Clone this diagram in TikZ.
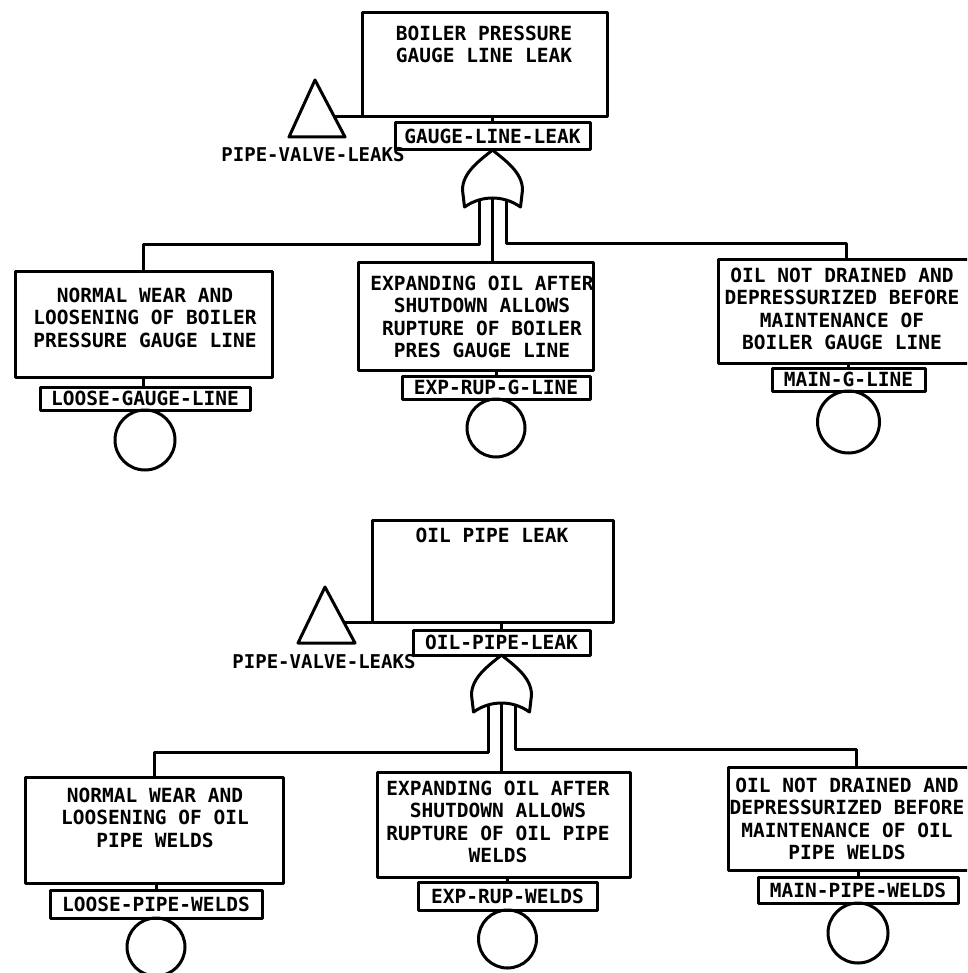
\documentclass[tikz,border=0pt]{standalone}
\usepackage{fontspec}
\newfontfamily\plotfont{DejaVu Sans Mono}
\begin{document}
\begin{tikzpicture}[x=1pt,y=-1pt,line width=3pt,line join=round,
  every node/.style={inner sep=0pt,outer sep=0pt},
  txt/.style={font=\plotfont\bfseries\fontsize{19.5}{22.5}\selectfont,align=center,anchor=north},
  evbox/.style={draw,anchor=north west},
  basic/.style={draw,circle,anchor=north,minimum size=#1},
  orgate/.pic={
    \draw (0,0) .. controls (-12,10) and (-30,22) .. (-30,40) -- (-28,57)
      .. controls (-18,50) and (-8,48) .. (0,48)
      .. controls (8,48) and (18,50) .. (28,57) -- (30,40)
      .. controls (30,22) and (12,10) .. cycle;
    \coordinate (-l) at (-13.5,51);
    \coordinate (-r) at (13.5,51);
    \coordinate (-c) at (0,48);
  }]
\clip (0,0) rectangle (967,973);
\fill[white] (0,0) rectangle (967,973);

% ---------------- boiler pressure gauge line tree ----------------
\node[evbox,minimum width=245,minimum height=104] (top1) at (362,13) {};
\node[txt] (top1t) at (484,26) {BOILER PRESSURE\\GAUGE LINE LEAK};
\node[evbox,minimum width=195,minimum height=27] (gl1) at (395,123) {};
\node[txt,anchor=center] (gl1t) at (gl1.center) {GAUGE-LINE-LEAK};
\draw (gl1.north |- top1.south) -- (gl1.north);

\draw (315,80) -- (289,137) -- (345,137) -- cycle;
\coordinate (tri1) at (334,117);
\draw (tri1) -- (top1.south west);
\node[font=\plotfont\bfseries\fontsize{19}{22}\selectfont] (pv1) at (313,155) {PIPE-VALVE-LEAKS};

\pic (g1) at (gl1.south) {orgate};
\coordinate (bus1l) at (0,245);
\coordinate (bus1r) at (0,244);

\node[evbox,minimum width=257,minimum height=105] (lb1) at (15,272) {};
\node[txt] (lb1t) at (145,288) {NORMAL WEAR AND\\LOOSENING OF BOILER\\PRESSURE GAUGE LINE};
\node[evbox,minimum width=210,minimum height=23] (lt1) at (40,387) {};
\node[txt,anchor=center] (lt1t) at (lt1.center) {LOOSE-GAUGE-LINE};
\draw (lb1.south) -- (lb1.south |- lt1.north);
\node[basic=60] (c1) at (lt1.south) {};

\node[evbox,minimum width=235,minimum height=107] (mb1) at (358,263) {};
\node[txt] (mb1t) at (482,276) {EXPANDING OIL AFTER\\SHUTDOWN ALLOWS\\RUPTURE OF BOILER\\PRES GAUGE LINE};
\node[evbox,minimum width=188,minimum height=23] (mt1) at (402,376) {};
\node[txt,anchor=center] (mt1t) at (mt1.center) {EXP-RUP-G-LINE};
\draw (mt1.north |- mb1.south) -- (mt1.north);
\node[basic=58] (c2) at (mt1.south) {};

\node[evbox,minimum width=257,minimum height=103] (rb1) at (718,260) {};
\node[txt] (rb1t) at (842,268) {OIL NOT DRAINED AND\\DEPRESSURIZED BEFORE\\MAINTENANCE OF\\BOILER GAUGE LINE};
\node[evbox,minimum width=153,minimum height=23] (rt1) at (772,368) {};
\node[txt,anchor=center] (rt1t) at (rt1.center) {MAIN-G-LINE};
\draw (rt1.north |- rb1.south) -- (rt1.north);
\node[basic=62] (c3) at (rt1.south) {};

\draw (g1-l) -- (g1-l |- bus1l) -| (lb1.north);
\draw (g1-r) -- (g1-r |- bus1r) -| (rb1.north);
\draw (g1-c) -- (g1-c |- mb1.north);

% ---------------- oil pipe tree ----------------
\node[evbox,minimum width=241,minimum height=102] (top2) at (372,520) {};
\node[txt] (top2t) at (492,528) {OIL PIPE LEAK};
\node[evbox,minimum width=177,minimum height=25] (ot2) at (413,630) {};
\node[txt,anchor=center] (ot2t) at (ot2.center) {OIL-PIPE-LEAK};
\draw (ot2.north |- top2.south) -- (ot2.north);

\draw (325,587) -- (298,643) -- (355,643) -- cycle;
\coordinate (tri2) at (345,622);
\draw (tri2) -- (top2.south west);
\node[font=\plotfont\bfseries\fontsize{19}{22}\selectfont] (pv2) at (324,662) {PIPE-VALVE-LEAKS};

\pic (g2) at (ot2.south) {orgate};
\coordinate (bus2l) at (0,752);
\coordinate (bus2r) at (0,749);

\node[evbox,minimum width=258,minimum height=106] (lb2) at (25,777) {};
\node[txt] (lb2t) at (155,788) {NORMAL WEAR AND\\LOOSENING OF OIL\\PIPE WELDS};
\node[evbox,minimum width=212,minimum height=28] (lt2) at (50,890) {};
\node[txt,anchor=center] (lt2t) at (lt2.center) {LOOSE-PIPE-WELDS};
\draw (lt2.north |- lb2.south) -- (lt2.north);
\node[basic=58] (c4) at (lt2.south) {};

\node[evbox,minimum width=253,minimum height=105] (mb2) at (377,772) {};
\node[txt] (mb2t) at (498,781) {EXPANDING OIL AFTER\\SHUTDOWN ALLOWS\\RUPTURE OF OIL PIPE\\WELDS};
\node[evbox,minimum width=179,minimum height=28] (mt2) at (418,882) {};
\node[txt,anchor=center] (mt2t) at (mt2.center) {EXP-RUP-WELDS};
\draw (mt2.north |- mb2.south) -- (mt2.north);
\node[basic=58] (c5) at (mt2.south) {};

\node[evbox,minimum width=257,minimum height=103] (rb2) at (728,767) {};
\node[txt] (rb2t) at (847,778) {OIL NOT DRAINED AND\\DEPRESSURIZED BEFORE\\MAINTENANCE OF OIL\\PIPE WELDS};
\node[evbox,minimum width=200,minimum height=26] (rt2) at (758,877) {};
\node[txt,anchor=center] (rt2t) at (rt2.center) {MAIN-PIPE-WELDS};
\draw (rt2.north |- rb2.south) -- (rt2.north);
\node[basic=60] (c6) at (rt2.south) {};

\draw (g2-l) -- (g2-l |- bus2l) -| (lb2.north);
\draw (g2-r) -- (g2-r |- bus2r) -| (rb2.north);
\draw (g2-c) -- (g2-c |- mb2.north);
\end{tikzpicture}
\end{document}
